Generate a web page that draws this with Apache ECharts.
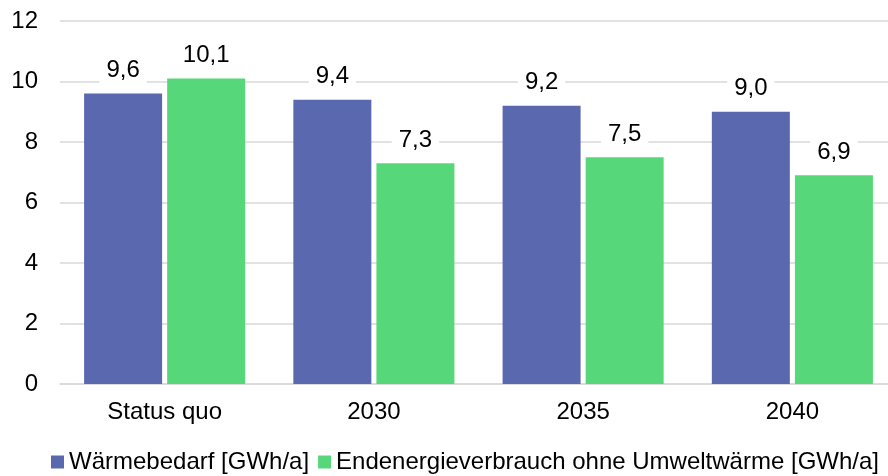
<!DOCTYPE html>
<html lang="de">
<head>
    <meta charset="UTF-8">
    <title>Wärmebedarf und Endenergieverbrauch</title>
    <script src="https://cdn.jsdelivr.net/npm/echarts@6/dist/echarts.min.js"></script>
    <style>
        html, body { margin: 0; padding: 0; background: #fff; }
        #main { width: 888px; height: 476px; }
    </style>
</head>
<body>
    <div id="main"></div>
    <script>
        // Daten
        const categories = ['Status quo', '2030', '2035', '2040'];
        const waermebedarf = [9.6, 9.4, 9.2, 9.0];
        const endenergie = [10.1, 7.3, 7.5, 6.9];
        const seriesNames = ['Wärmebedarf [GWh/a]', 'Endenergieverbrauch ohne Umweltwärme [GWh/a]'];
        const yTicks = { min: 0, max: 12, interval: 2 };

        const font = 'Liberation Sans, Arial, sans-serif';
        const chart = echarts.init(document.getElementById('main'));

        const labelStyle = {
            show: true,
            position: 'top',
            distance: 9,
            fontFamily: font,
            fontSize: 24,
            color: '#000',
            backgroundColor: '#fff',
            padding: [2, 7],
            formatter: p => p.value.toFixed(1).replace('.', ',')
        };

        chart.setOption({
            animation: false,
            backgroundColor: '#fff',
            grid: { left: 60, top: 21, width: 837, height: 363, outerBoundsMode: 'none', containLabel: false },
            legend: {
                data: seriesNames,
                left: 51,
                top: 450,
                width: 880,
                padding: 0,
                itemWidth: 13,
                itemHeight: 13,
                itemGap: 9,
                icon: 'rect',
                textStyle: { fontFamily: font, fontSize: 24, color: '#000' }
            },
            xAxis: {
                type: 'category',
                data: categories,
                axisTick: { show: false },
                axisLine: { lineStyle: { color: '#d9d9d9', width: 1.5 } },
                axisLabel: { fontFamily: font, fontSize: 24, color: '#000', margin: 16 }
            },
            yAxis: {
                type: 'value',
                min: yTicks.min,
                max: yTicks.max,
                interval: yTicks.interval,
                axisLine: { show: false },
                axisTick: { show: false },
                splitLine: { lineStyle: { color: '#d9d9d9', width: 1.5 } },
                axisLabel: { fontFamily: font, fontSize: 24, color: '#000', margin: 22 }
            },
            series: [
                {
                    name: seriesNames[0],
                    type: 'bar',
                    data: waermebedarf,
                    barWidth: 78,
                    barGap: '6.5%',
                    itemStyle: { color: '#5a68b0' },
                    label: labelStyle
                },
                {
                    name: seriesNames[1],
                    type: 'bar',
                    data: endenergie,
                    barWidth: 78,
                    itemStyle: { color: '#56d87a' },
                    label: labelStyle
                }
            ]
        });
    </script>
</body>
</html>
